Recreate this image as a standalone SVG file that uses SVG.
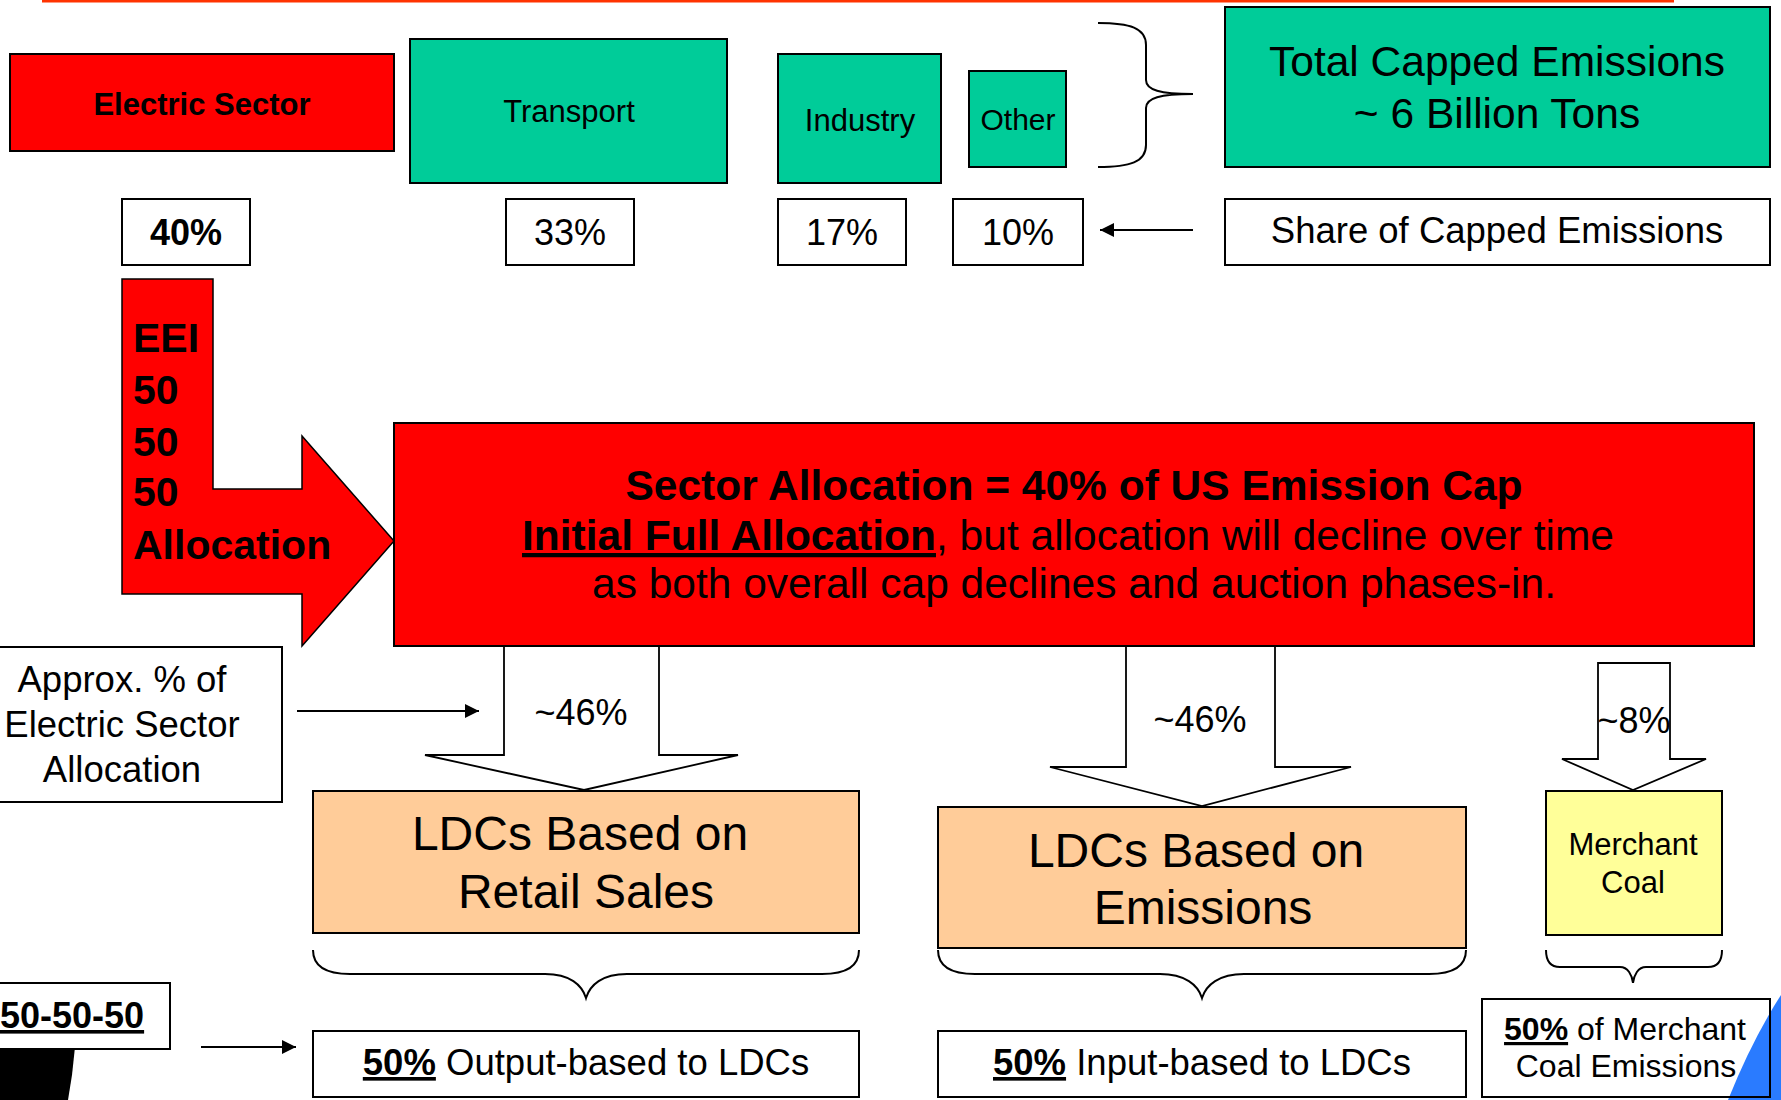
<svg xmlns="http://www.w3.org/2000/svg" width="1781" height="1100" viewBox="0 0 1781 1100">
<defs>
<style>
text{font-family:"Liberation Sans",Arial,sans-serif;fill:#000}
.b{font-weight:bold}
.u{text-decoration:underline}
.bx{stroke:#000;stroke-width:2}
.red{fill:#FF0000}
.grn{fill:#00CC99}
.wht{fill:#FFFFFF}
.org{fill:#FFCC99}
.yel{fill:#FFFF99}
.ln{stroke:#000;stroke-width:2;fill:none}
.blk{fill:#FFFFFF;stroke:#000;stroke-width:1.8}
</style>
<marker id="ah2" markerWidth="14" markerHeight="14" refX="14" refY="7" orient="auto" markerUnits="userSpaceOnUse" viewBox="0 0 14 14">
<path d="M0,0 L14,7 L0,14 Z" fill="#000"/>
</marker>
</defs>

<rect x="42" y="0" width="1632" height="2.5" fill="#FF3300"/>
<path d="M1728,1100 Q1752,1040 1781,995 L1781,1100 Z" fill="#2A7BFF"/>
<path d="M0,1047 L75,1047 L72,1075 L68,1100 L0,1100 Z" fill="#000"/>

<g id="electric-sector">
<rect class="bx red" x="10" y="54" width="384" height="97"/>
<text class="b" x="202" y="115" font-size="31" text-anchor="middle">Electric Sector</text>
</g>
<g id="transport">
<rect class="bx grn" x="410" y="39" width="317" height="144"/>
<text x="569" y="122" font-size="31" text-anchor="middle">Transport</text>
</g>
<g id="industry">
<rect class="bx grn" x="778" y="54" width="163" height="129"/>
<text x="860" y="131" font-size="31" text-anchor="middle">Industry</text>
</g>
<g id="other">
<rect class="bx grn" x="969" y="71" width="97" height="96"/>
<text x="1018" y="130" font-size="30" text-anchor="middle">Other</text>
</g>
<g id="total-capped">
<rect class="bx grn" x="1225" y="7" width="545" height="160"/>
<text x="1497" y="76" font-size="42.5" text-anchor="middle">Total Capped Emissions</text>
<text x="1497" y="128" font-size="42.5" text-anchor="middle">~ 6 Billion Tons</text>
</g>
<g id="share">
<rect class="bx wht" x="1225" y="199" width="545" height="66"/>
<text x="1497" y="243" font-size="36.5" text-anchor="middle">Share of Capped Emissions</text>
</g>
<g id="pct40">
<rect class="bx wht" x="122" y="199" width="128" height="66"/>
<text class="b" x="186" y="245" font-size="36" text-anchor="middle">40%</text>
</g>
<g id="pct33">
<rect class="bx wht" x="506" y="199" width="128" height="66"/>
<text x="570" y="245" font-size="36" text-anchor="middle">33%</text>
</g>
<g id="pct17">
<rect class="bx wht" x="778" y="199" width="128" height="66"/>
<text x="842" y="245" font-size="36" text-anchor="middle">17%</text>
</g>
<g id="pct10">
<rect class="bx wht" x="953" y="199" width="130" height="66"/>
<text x="1018" y="245" font-size="36" text-anchor="middle">10%</text>
</g>

<g id="eei-arrow">
<polygon points="122,279 213,279 213,489 302,489 302,436 394,541 302,646 302,594 122,594" fill="#FF0000" stroke="#000" stroke-width="1.5"/>
<text class="b" font-size="41" x="133" y="352">EEI</text>
<text class="b" font-size="41" x="133" y="404">50</text>
<text class="b" font-size="41" x="133" y="456">50</text>
<text class="b" font-size="41" x="133" y="506">50</text>
<text class="b" font-size="41" x="133" y="559">Allocation</text>
</g>

<g id="sector-allocation">
<rect class="bx red" x="394" y="423" width="1360" height="223"/>
<text class="b" x="1074" y="500" font-size="42.5" text-anchor="middle">Sector Allocation = 40% of US Emission Cap</text>
<text x="1068" y="550" font-size="42.5" text-anchor="middle"><tspan class="b u">Initial Full Allocation</tspan>, but allocation will decline over time</text>
<text x="1074" y="598" font-size="42.5" text-anchor="middle">as both overall cap declines and auction phases-in.</text>
</g>

<g id="approx-label">
<rect class="bx wht" x="-3" y="647" width="285" height="155"/>
<text x="122" y="692" font-size="36.5" text-anchor="middle">Approx. % of</text>
<text x="122" y="737" font-size="36.5" text-anchor="middle">Electric Sector</text>
<text x="122" y="782" font-size="36.5" text-anchor="middle">Allocation</text>
</g>

<g id="connectors">
<line class="ln" x1="1193" y1="230" x2="1100" y2="230" marker-end="url(#ah2)"/>
<path class="ln" d="M1098,23 C1130,23 1146,28 1146,45 L1146,80 C1146,90 1160,94 1193,94 C1160,94 1146,98 1146,108 L1146,145 C1146,162 1130,167 1098,167"/>
<line class="ln" x1="297" y1="711" x2="479" y2="711" marker-end="url(#ah2)"/>
<line class="ln" x1="201" y1="1047" x2="296" y2="1047" marker-end="url(#ah2)"/>
<polygon class="blk" points="504,646 659,646 659,755 738,755 584,790 425,755 504,755"/>
<polygon class="blk" points="1126,646 1275,646 1275,767 1351,767 1202,806 1050,767 1126,767"/>
<polygon class="blk" points="1598,663 1670,663 1670,759 1706,759 1633,790 1562,759 1598,759"/>
<path class="ln" d="M313,950 C313,966 325,974 350,974 L545,974 C570,974 582,985 586,998 C590,985 602,974 627,974 L822,974 C847,974 859,966 859,950"/>
<path class="ln" d="M938,950 C938,966 950,974 975,974 L1160,974 C1185,974 1198,985 1202,998 C1206,985 1219,974 1244,974 L1429,974 C1454,974 1466,966 1466,950"/>
<path class="ln" d="M1546,950 C1546,961 1550,967 1560,967 L1620,967 C1628,967 1632,975 1633,983 C1634,975 1638,967 1646,967 L1708,967 C1718,967 1722,961 1722,950"/>
</g>

<g id="pct46a"><text x="581" y="725" font-size="36" text-anchor="middle">~46%</text></g>
<g id="pct46b"><text x="1200" y="732" font-size="36" text-anchor="middle">~46%</text></g>
<g id="pct8"><text x="1634" y="733" font-size="36" text-anchor="middle">~8%</text></g>

<g id="ldc-retail">
<rect class="bx org" x="313" y="791" width="546" height="142"/>
<text x="580" y="850" font-size="48" text-anchor="middle">LDCs Based on</text>
<text x="586" y="908" font-size="48" text-anchor="middle">Retail Sales</text>
</g>
<g id="ldc-emissions">
<rect class="bx org" x="938" y="807" width="528" height="141"/>
<text x="1196" y="867" font-size="48" text-anchor="middle">LDCs Based on</text>
<text x="1203" y="924" font-size="48" text-anchor="middle">Emissions</text>
</g>
<g id="merchant-coal">
<rect class="bx yel" x="1546" y="791" width="176" height="144"/>
<text x="1633" y="855" font-size="31" text-anchor="middle">Merchant</text>
<text x="1633" y="893" font-size="31" text-anchor="middle">Coal</text>
</g>

<g id="box-505050">
<rect class="bx wht" x="-3" y="983" width="173" height="66"/>
<text class="b u" x="0" y="1028" font-size="36">50-50-50</text>
</g>
<g id="output-based">
<rect class="bx wht" x="313" y="1031" width="546" height="66"/>
<text x="586" y="1075" font-size="36.5" text-anchor="middle"><tspan class="b u">50%</tspan> Output-based to LDCs</text>
</g>
<g id="input-based">
<rect class="bx wht" x="938" y="1031" width="528" height="66"/>
<text x="1202" y="1075" font-size="36.5" text-anchor="middle"><tspan class="b u">50%</tspan> Input-based to LDCs</text>
</g>
<g id="merchant-emissions">
<rect class="bx" fill="none" x="1482" y="999" width="288" height="98"/>
<text x="1625" y="1040" font-size="32" text-anchor="middle"><tspan class="b u">50%</tspan> of Merchant</text>
<text x="1626" y="1077" font-size="32" text-anchor="middle">Coal Emissions</text>
</g>
</svg>
